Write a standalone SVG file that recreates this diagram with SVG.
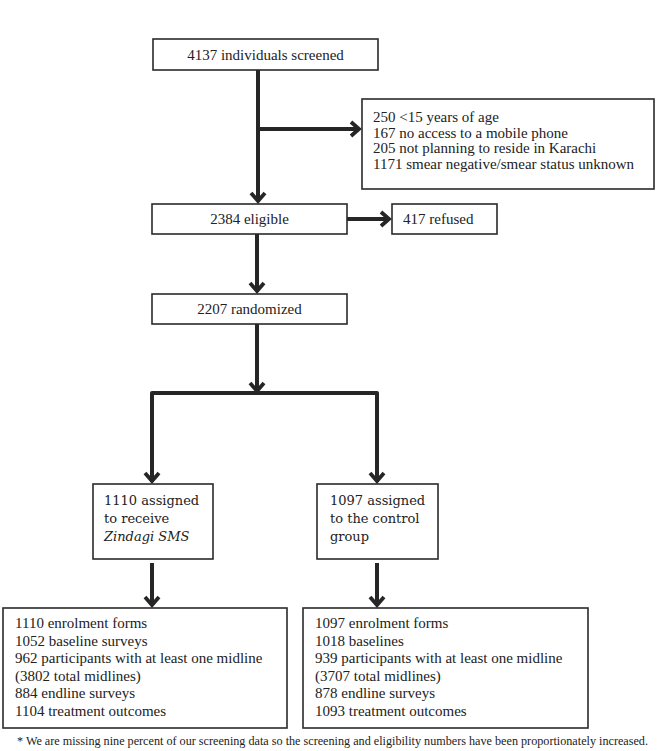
<svg xmlns="http://www.w3.org/2000/svg" width="665" height="751" viewBox="0 0 665 751">
<style>
.box{fill:#fff;stroke:#2a2a2a;stroke-width:1.6}
.t{font-family:"Liberation Serif","Times New Roman",serif;font-size:15px;fill:#222}
.c{font-family:"DejaVu Serif","Liberation Serif",serif;font-size:13px;fill:#222}
.fn{font-family:"Liberation Serif","Times New Roman",serif;font-size:12px;fill:#222}
.ln{fill:none;stroke:#262626;stroke-width:4}
</style>
<defs>
<marker id="chev" markerWidth="20" markerHeight="20" refX="12" refY="10" orient="auto" markerUnits="userSpaceOnUse">
<path d="M4,3 L12,10 L4,17" fill="none" stroke="#262626" stroke-width="3.8"/>
</marker>
</defs>
<rect width="665" height="751" fill="#fff"/>
<g id="connectors">
<line class="ln" x1="258" y1="70" x2="258" y2="201" marker-end="url(#chev)"/>
<line class="ln" x1="258" y1="129" x2="359" y2="129" marker-end="url(#chev)"/>
<line class="ln" x1="347" y1="219" x2="389" y2="219" marker-end="url(#chev)"/>
<line class="ln" x1="257" y1="234" x2="257" y2="291" marker-end="url(#chev)"/>
<line class="ln" x1="257" y1="324" x2="257" y2="391" marker-end="url(#chev)"/>
<polyline class="ln" points="152,482 152,393 377,393 377,482" stroke-linejoin="round"/>
<line class="ln" x1="152" y1="440" x2="152" y2="481" marker-end="url(#chev)"/>
<line class="ln" x1="377" y1="440" x2="377" y2="481" marker-end="url(#chev)"/>
<line class="ln" x1="152" y1="563" x2="152" y2="605" marker-end="url(#chev)"/>
<line class="ln" x1="377" y1="563" x2="377" y2="605" marker-end="url(#chev)"/>
</g>
<g id="screened">
<rect class="box" x="153" y="39" width="225" height="31"/>
<text class="t" x="265.5" y="60" text-anchor="middle">4137 individuals screened</text>
</g>
<g id="excluded">
<rect class="box" x="362" y="99" width="292" height="90"/>
<text class="t" x="373" y="122">250 &lt;15 years of age</text>
<text class="t" x="373" y="137.5">167 no access to a mobile phone</text>
<text class="t" x="373" y="153">205 not planning to reside in Karachi</text>
<text class="t" x="373" y="168.5">1171 smear negative/smear status unknown</text>
</g>
<g id="eligible">
<rect class="box" x="152" y="204" width="195" height="30"/>
<text class="t" x="249.5" y="224" text-anchor="middle">2384 eligible</text>
</g>
<g id="refused">
<rect class="box" x="392" y="204" width="105" height="30"/>
<text class="t" x="403" y="224">417 refused</text>
</g>
<g id="randomized">
<rect class="box" x="152" y="294" width="195" height="30"/>
<text class="t" x="249.5" y="314" text-anchor="middle">2207 randomized</text>
</g>
<g id="intervention">
<rect class="box" x="93" y="484" width="120" height="75"/>
<text class="c" x="104" y="505">1110 assigned</text>
<text class="c" x="104" y="523">to receive</text>
<text class="c" x="104" y="541" font-style="italic">Zindagi SMS</text>
</g>
<g id="control">
<rect class="box" x="317" y="484" width="121" height="75"/>
<text class="c" x="330" y="505">1097 assigned</text>
<text class="c" x="330" y="523">to the control</text>
<text class="c" x="330" y="541">group</text>
</g>
<g id="intervention-outcomes">
<rect class="box" x="3" y="608" width="284" height="120"/>
<text class="t" x="15" y="628">1110 enrolment forms</text>
<text class="t" x="15" y="645.5">1052 baseline surveys</text>
<text class="t" x="15" y="663">962 participants with at least one midline</text>
<text class="t" x="15" y="680.5">(3802 total midlines)</text>
<text class="t" x="15" y="698">884 endline surveys</text>
<text class="t" x="15" y="715.5">1104 treatment outcomes</text>
</g>
<g id="control-outcomes">
<rect class="box" x="303" y="608" width="285" height="120"/>
<text class="t" x="315" y="628">1097 enrolment forms</text>
<text class="t" x="315" y="645.5">1018 baselines</text>
<text class="t" x="315" y="663">939 participants with at least one midline</text>
<text class="t" x="315" y="680.5">(3707 total midlines)</text>
<text class="t" x="315" y="698">878 endline surveys</text>
<text class="t" x="315" y="715.5">1093 treatment outcomes</text>
</g>
<text class="fn" x="17" y="745" textLength="631" lengthAdjust="spacingAndGlyphs">* We are missing nine percent of our screening data so the screening and eligibility numbers have been proportionately increased.</text>
</svg>
